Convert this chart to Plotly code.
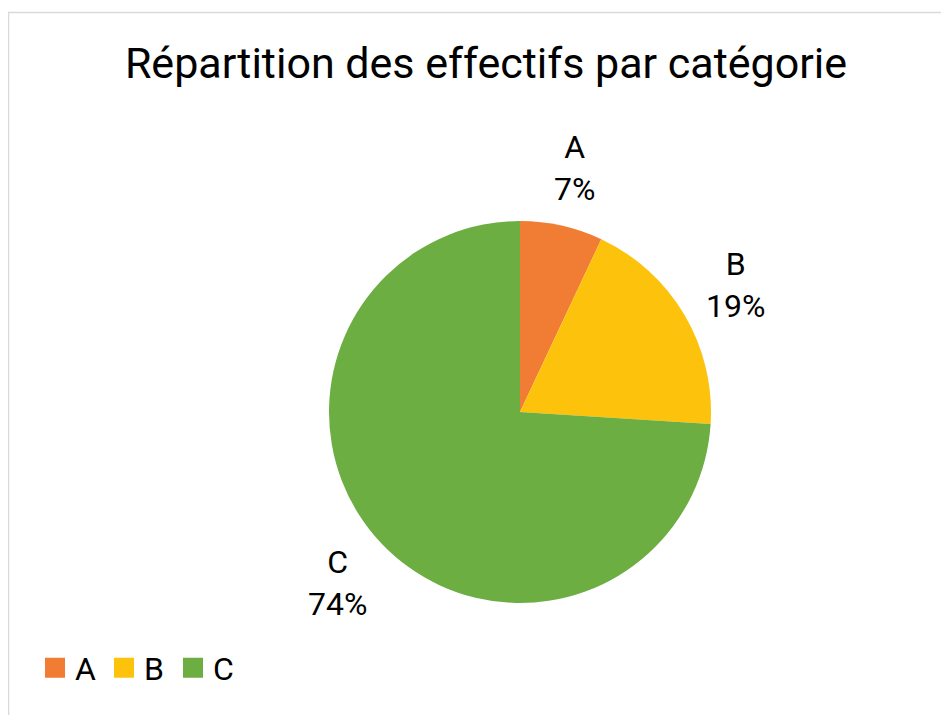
import math
import plotly.graph_objects as go

categories = ["A", "B", "C"]
values = [7, 19, 74]
colors = ["#F07D33", "#FDC20C", "#6DAE43"]
title_text = "Répartition des effectifs par catégorie"

W, H = 949, 715
OFF = 8  # page body margin
cx_px, cy_px, R = 520 - OFF, 412 - OFF, 191

fig = go.Figure()
fig.add_trace(go.Pie(
    labels=categories, values=values, sort=False, direction="clockwise",
    rotation=0, textinfo="none", hoverinfo="label+percent",
    marker=dict(colors=colors, line=dict(width=0)),
    domain=dict(x=[(cx_px - R) / W, (cx_px + R) / W],
                y=[(H - cy_px - R) / H, (H - cy_px + R) / H]),
    showlegend=False,
))

# legend entries
for cat, col in zip(categories, colors):
    fig.add_trace(go.Scatter(
        x=[None], y=[None], mode="markers", name=cat,
        marker=dict(symbol="square", size=16, color=col, line=dict(color=col, width=4)),
    ))

# outside labels computed from the data
total = sum(values)
annotations = []
cum = 0
for cat, v in zip(categories, values):
    mid = (cum + v / 2) / total * 2 * math.pi
    cum += v
    r = 1.31 * R
    dx = r * math.sin(mid)
    dy = r * math.cos(mid)
    annotations.append(dict(
        x=(cx_px + dx) / W, y=(H - cy_px + dy) / H, xref="paper", yref="paper",
        text=f"{cat}<br>{round(v / total * 100)}%", showarrow=False,
        xanchor="center", yanchor="middle", align="center",
        font=dict(family="Roboto", size=32, color="#000000"),
    ))

fig.update_layout(
    width=W, height=H,
    margin=dict(l=0, r=0, t=0, b=0),
    paper_bgcolor="white", plot_bgcolor="white",
    title=dict(text=title_text, x=(486 - OFF) / W, y=1 - (63 - OFF) / H, xanchor="center", yanchor="middle",
               font=dict(family="Roboto", size=43, color="#000000")),
    xaxis=dict(visible=False), yaxis=dict(visible=False),
    legend=dict(orientation="h", x=(35 - OFF) / W, y=1 - (668 - OFF) / H, xanchor="left", yanchor="middle",
                entrywidth=24, entrywidthmode="pixels",
                font=dict(family="Roboto", size=32, color="#000000"), bgcolor="rgba(0,0,0,0)"),
    annotations=annotations,
    shapes=[dict(type="rect", xref="paper", yref="paper", x0=(8.5 - OFF) / W, y0=-0.1, x1=1.1,
                 y1=1 - (12.5 - OFF) / H,
                 line=dict(color="#D9D9D9", width=1.5), fillcolor="rgba(0,0,0,0)", layer="below")],
)

fig.write_html("out.html")
